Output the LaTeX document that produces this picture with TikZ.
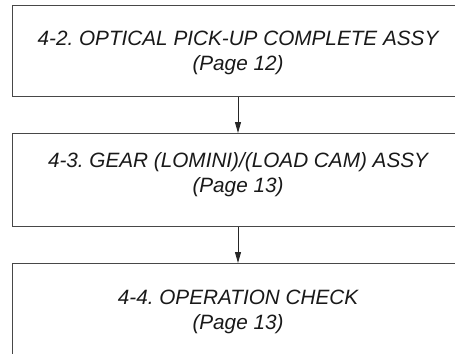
\documentclass[tikz,border=0pt]{standalone}
\usepackage{fontspec}
\setmainfont{Liberation Sans}
\usetikzlibrary{arrows.meta}
\frenchspacing
\begin{document}
\begin{tikzpicture}[x=1bp,y=-1bp,
  box/.style={draw=black!72, line width=0.9bp},
  lbl/.style={font=\itshape\fontsize{20.8}{24}\selectfont, align=center, anchor=base, inner sep=0pt, text=black!90},
  flow/.style={draw=black!85, line width=0.9bp, -{Triangle[length=11bp,width=6bp]}}]
\useasboundingbox (0,0) rectangle (455,353);
\clip (0,0) rectangle (455,353);
\fill[white] (0,0) rectangle (455,353);
% boxes
\node[box, minimum width=452bp, minimum height=91bp, inner sep=0pt, anchor=north west] (b1) at (12,5) {};
\node[box, minimum width=452bp, minimum height=93bp, inner sep=0pt, anchor=north west] (b2) at (12,133) {};
\node[box, minimum width=452bp, minimum height=120bp, inner sep=0pt, anchor=north west] (b3) at (12,263) {};
% texts
\node[lbl] (t1a) at (238,45) {4-2. OPTICAL PICK-UP COMPLETE ASSY};
\node[lbl] (t1b) at (238,70) {(Page 12)};
\node[lbl] (t2a) at (238,167) {4-3. GEAR (LOMINI)/(LOAD CAM) ASSY};
\node[lbl] (t2b) at (238,192) {(Page 13)};
\node[lbl] (t3a) at (238,304) {4-4. OPERATION CHECK};
\node[lbl] (t3b) at (238,329) {(Page 13)};
% arrows
\draw[flow] (b1.south -| 238,0) -- (b2.north -| 238,0);
\draw[flow] (b2.south -| 238,0) -- (b3.north -| 238,0);
\end{tikzpicture}
\end{document}
